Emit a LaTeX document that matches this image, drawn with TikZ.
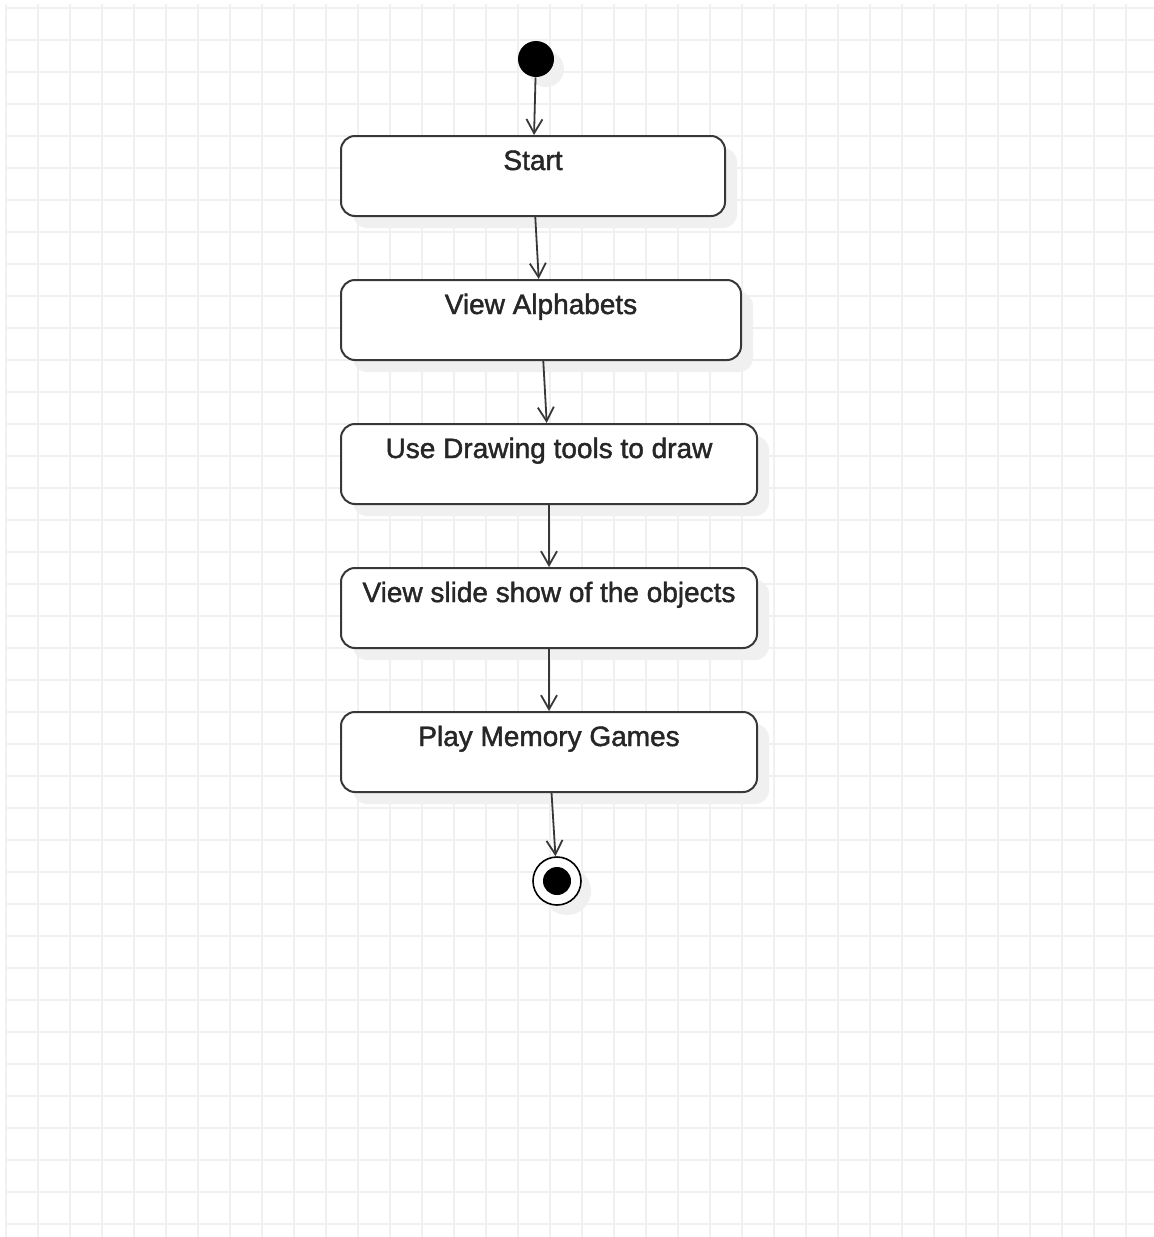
\documentclass[tikz,border=0pt]{standalone}
\usepackage{fontspec}
\setmainfont{Liberation Sans}
\newfontface\boxfont{Liberation Sans}[FakeBold=1.5]
\usetikzlibrary{arrows.meta, shadows}

\begin{document}
\begin{tikzpicture}[
    x=0.5pt, y=-0.5pt,
    gridline/.style={draw=black!6, line width=1pt},
    activity/.style={rectangle, draw=black!78, line width=1pt, fill=white, rounded corners=7pt, inner sep=0pt, minimum height=40pt, text height=17pt, text depth=23pt, font=\boxfont\fontsize{14}{16}\selectfont, text=black!85, drop shadow={shadow xshift=6pt, shadow yshift=-6pt, fill=black!6, opacity=1}},
    initial/.style={circle, fill=black, inner sep=0pt, minimum size=18pt, drop shadow={shadow xshift=5pt, shadow yshift=-5pt, fill=black!6, opacity=1}},
    final/.style={circle, draw=black, fill=white, line width=0.8pt, inner sep=0pt, minimum size=24pt, path picture={\fill[black] (path picture bounding box.center) circle (7pt);}, drop shadow={shadow xshift=5pt, shadow yshift=-5pt, fill=black!6, opacity=1}},
    flow/.style={-{Straight Barb[length=7pt, width=8pt]}, line width=0.9pt, draw=black!78}
]

% Background and grid
\fill[white] (0,0) rectangle (1154,1237);
\useasboundingbox (0,0) rectangle (1154,1237);
\foreach \gx in {6,38,...,1154} \draw[gridline] (\gx,4) -- (\gx,1237);
\foreach \gy in {8,40,...,1237} \draw[gridline] (6,\gy) -- (1154,\gy);

% Activities
\node[initial] (init) at (536,59) {};
\node[activity, minimum width=192pt] (start) at (533,176) {Start};
\node[activity, minimum width=200pt] (alpha) at (541,320) {View Alphabets};
\node[activity, minimum width=208pt] (drawing) at (549,464) {Use Drawing tools to draw};
\node[activity, minimum width=208pt] (slides) at (549,608) {View slide show of the objects};
\node[activity, minimum width=208pt] (games) at (549,752) {Play Memory Games};
\node[final] (end) at (557,881) {};

% Control flow
\draw[flow] (init) -- (start);
\draw[flow] (start) -- (alpha);
\draw[flow] (alpha) -- (drawing);
\draw[flow] (drawing) -- (slides);
\draw[flow] (slides) -- (games);
\draw[flow] (games) -- (end);

\end{tikzpicture}
\end{document}
